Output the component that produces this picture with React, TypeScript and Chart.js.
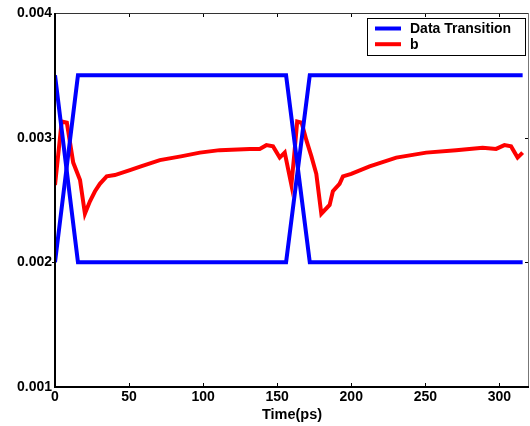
import React, { useEffect, useRef } from "react";
import { Chart, registerables } from "chart.js";

Chart.register(...registerables);

// Data Transition (two complementary blue traces)
const transitionX = [0, 15.5, 156, 172, 315.7];
const transitionRiseY = [0.002, 0.0035, 0.0035, 0.002, 0.002];
const transitionFallY = [0.0035, 0.002, 0.002, 0.0035, 0.0035];

// Series "b"
const bX = [
  0, 2.5, 4.5, 8, 12.3, 16.9, 20.2, 23.6, 27, 30.3, 34.9, 40.4, 50.6, 58, 70.8, 85, 97.8, 111.2,
  131.5, 138.2, 142.7, 147.2, 151.7, 155.1, 159.6, 161.8, 163.5, 166.5, 169.7, 173.1, 176.4,
  179.8, 185.4, 187.6, 192.1, 194.4, 200, 212.4, 230.4, 250.6, 270.8, 288.7, 297.8, 303.4,
  307.9, 312.3, 315.7,
];
const bY = [
  0.00262, 0.0029, 0.00313, 0.00312, 0.0028, 0.00266, 0.00239, 0.00249, 0.00257, 0.00263,
  0.00269, 0.0027, 0.00274, 0.00277, 0.00282, 0.00285, 0.00288, 0.0029, 0.00291, 0.00291,
  0.00294, 0.00293, 0.00284, 0.00288, 0.00262, 0.0029, 0.00313, 0.00312, 0.00298, 0.00285,
  0.00271, 0.00239, 0.00246, 0.00257, 0.00263, 0.00269, 0.00271, 0.00277, 0.00284, 0.00288,
  0.0029, 0.00292, 0.00291, 0.00294, 0.00293, 0.00284, 0.00288,
];

const xTickValues = [0, 50, 100, 150, 200, 250, 300];
const yTickValues = [0.001, 0.002, 0.003, 0.004];
const xTitle = "Time(ps)";
const seriesLabels = ["Data Transition", "", "b"];
const seriesColors = ["#0000ff", "#0000ff", "#ff0000"];

const FONT = "'Liberation Sans', Arial, Helvetica, sans-serif";

const pts = (xs: number[], ys: number[]) => xs.map((x, i) => ({ x, y: ys[i] }));

const framePlugin = {
  id: "frameAndLegend",
  afterDraw(chart: any) {
    const { ctx, chartArea } = chart;
    const { left, right, top, bottom } = chartArea;
    const xs = chart.scales.x;
    const ys = chart.scales.y;
    ctx.save();
    // inside ticks
    ctx.strokeStyle = "#000";
    ctx.lineWidth = 1;
    const tl = 4;
    xTickValues.forEach((v) => {
      const px = Math.round(xs.getPixelForValue(v)) + 0.5;
      if (px <= left + 2 || px >= right - 2) return;
      ctx.beginPath();
      ctx.moveTo(px, bottom);
      ctx.lineTo(px, bottom - tl);
      ctx.moveTo(px, top);
      ctx.lineTo(px, top + tl);
      ctx.stroke();
    });
    yTickValues.forEach((v) => {
      const py = Math.round(ys.getPixelForValue(v)) + 0.5;
      if (py <= top + 2 || py >= bottom - 2) return;
      ctx.beginPath();
      ctx.moveTo(left, py);
      ctx.lineTo(left - 3, py);
      ctx.moveTo(right, py);
      ctx.lineTo(right - tl, py);
      ctx.stroke();
    });
    // frame
    ctx.lineWidth = 1;
    ctx.strokeStyle = "#333";
    ctx.beginPath();
    ctx.moveTo(left, top + 0.5);
    ctx.lineTo(right, top + 0.5);
    ctx.stroke();
    ctx.strokeStyle = "#777";
    ctx.beginPath();
    ctx.moveTo(right - 0.5, top);
    ctx.lineTo(right - 0.5, bottom);
    ctx.stroke();
    ctx.strokeStyle = "#000";
    ctx.lineWidth = 2;
    ctx.beginPath();
    ctx.moveTo(left, top);
    ctx.lineTo(left, bottom);
    ctx.lineTo(right, bottom);
    ctx.stroke();

    // legend
    const entries = chart.data.datasets
      .map((d: any, i: number) => ({ label: d.label, color: d.borderColor, i }))
      .filter((e: any) => e.label);
    const boxR = right - 3;
    const boxL = boxR - 159;
    const boxT = top + 5;
    const rowH = 15.7;
    const boxH = 38;
    ctx.fillStyle = "#fff";
    ctx.fillRect(boxL, boxT, boxR - boxL, boxH);
    ctx.strokeStyle = "#000";
    ctx.lineWidth = 1;
    ctx.strokeRect(boxL + 0.5, boxT + 0.5, boxR - boxL - 1, boxH - 1);
    ctx.font = `bold 14px ${FONT}`;
    ctx.textBaseline = "middle";
    ctx.textAlign = "left";
    entries.forEach((e: any, k: number) => {
      const cy = boxT + 10.5 + k * rowH;
      ctx.strokeStyle = e.color;
      ctx.lineWidth = 4;
      ctx.beginPath();
      ctx.moveTo(boxL + 8, cy);
      ctx.lineTo(boxL + 34, cy);
      ctx.stroke();
      ctx.fillStyle = "#000";
      ctx.fillText(e.label, boxL + 43, cy + 0.5);
    });
    ctx.restore();
  },
};

export default function App() {
  const ref = useRef<HTMLCanvasElement | null>(null);
  useEffect(() => {
    if (!ref.current) return;
    const chart = new Chart(ref.current, {
      type: "scatter",
      data: {
        datasets: [
          {
            label: seriesLabels[0],
            data: pts(transitionX, transitionFallY),
            borderColor: seriesColors[0],
            backgroundColor: seriesColors[0],
            showLine: true,
            borderWidth: 4,
            pointRadius: 0,
            tension: 0,
          },
          {
            label: seriesLabels[1],
            data: pts(transitionX, transitionRiseY),
            borderColor: seriesColors[1],
            backgroundColor: seriesColors[1],
            showLine: true,
            borderWidth: 4,
            pointRadius: 0,
            tension: 0,
          },
          {
            label: seriesLabels[2],
            data: pts(bX, bY),
            borderColor: seriesColors[2],
            backgroundColor: seriesColors[2],
            showLine: true,
            borderWidth: 4,
            pointRadius: 0,
            tension: 0,
          },
        ],
      },
      options: {
        animation: false,
        responsive: false,
        maintainAspectRatio: false,
        layout: { padding: { top: 13, right: 1, left: 0, bottom: 0 } },
        plugins: { legend: { display: false }, tooltip: { enabled: false } },
        scales: {
          x: {
            type: "linear",
            min: 0,
            max: 320,
            afterFit: (s: any) => {
              s.height = 39;
            },
            afterBuildTicks: (s: any) => {
              s.ticks = xTickValues.map((v) => ({ value: v }));
            },
            ticks: {
              color: "#000",
              font: { family: FONT, size: 14, weight: "bold" },
              padding: 2,
              maxRotation: 0,
              callback: (v: any) => String(v),
            },
            grid: { display: false, drawTicks: false },
            border: { display: false },
            title: {
              display: true,
              text: xTitle,
              color: "#000",
              font: { family: FONT, size: 14.5, weight: "bold" },
              padding: { top: 0, bottom: 2 },
            },
          },
          y: {
            type: "linear",
            min: 0.001,
            max: 0.004,
            afterFit: (s: any) => {
              s.width = 55;
            },
            afterBuildTicks: (s: any) => {
              s.ticks = yTickValues.map((v) => ({ value: v }));
            },
            ticks: {
              color: "#000",
              font: { family: FONT, size: 14, weight: "bold" },
              padding: 3,
              callback: (v: any) => Number(v).toFixed(3),
            },
            grid: { display: false, drawTicks: false },
            border: { display: false },
          },
        },
      },
      plugins: [framePlugin],
    } as any);
    return () => chart.destroy();
  }, []);
  return (
    <div style={{ position: "fixed", left: 0, top: 0, width: 530, height: 426, background: "#fff" }}>
      <canvas ref={ref} width={530} height={426} style={{ width: 530, height: 426, display: "block" }} />
    </div>
  );
}
